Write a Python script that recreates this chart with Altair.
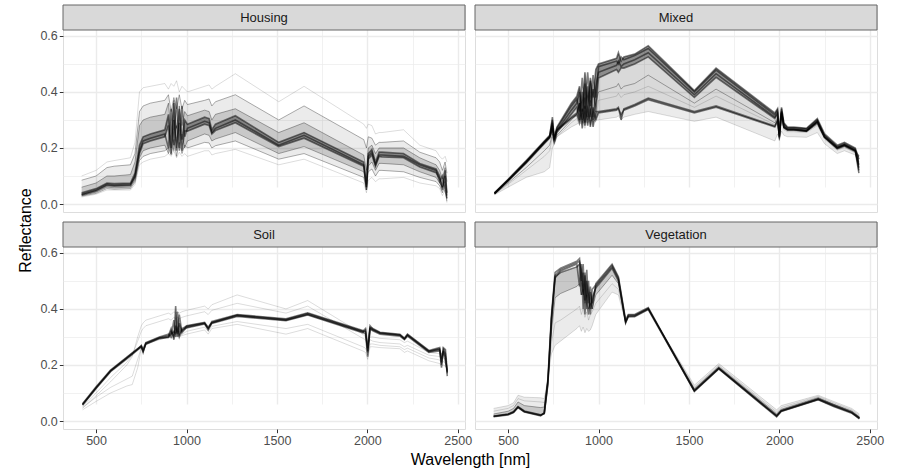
import altair as alt
import pandas as pd

# ---------------- axis breaks / limits ----------------
XVALS = [500, 750, 1000, 1250, 1500, 1750, 2000, 2250, 2500]
YVALS = [0.0, 0.1, 0.2, 0.3, 0.4, 0.5, 0.6]
X_DOMAIN = [317, 2540]
Y_DOMAIN = [-0.0285, 0.621]

# ---------------- Housing ----------------
housing_wl = [420, 500, 560, 600, 690, 715, 740, 760, 800, 880, 900, 915, 930, 945, 960,
              975, 990, 1005, 1100, 1125, 1140, 1160, 1270, 1510, 1650, 1980, 1995, 2005,
              2025, 2045, 2065, 2080, 2200, 2290, 2380, 2400, 2415, 2430, 2440]
housing_core = {
    "C1": [.040, .055, .075, .073, .075, .110, .210, .240, .250, .265, .320, .200, .360, .190, .340,
           .230, .300, .285, .310, .305, .265, .285, .315, .220, .255, .150, .060, .180, .195, .150,
           .185, .185, .180, .145, .125, .100, .060, .120, .040],
    "C2": [.035, .050, .070, .068, .070, .100, .190, .225, .235, .250, .200, .340, .210, .380, .200,
           .350, .240, .270, .295, .290, .255, .270, .300, .210, .245, .140, .050, .170, .185, .140,
           .175, .175, .170, .140, .120, .080, .100, .050, .020],
    "C3": [.032, .046, .066, .064, .066, .095, .180, .215, .225, .240, .280, .180, .300, .200, .290,
           .190, .260, .260, .285, .280, .250, .262, .290, .205, .235, .135, .070, .160, .175, .135,
           .170, .168, .165, .132, .112, .090, .050, .100, .030],
}
housing_mid = {
    "H2": [.085, .100, .130, .135, .140, .180, .330, .350, .360, .370, .390, .330, .380, .340, .390,
           .340, .370, .355, .370, .375, .350, .365, .390, .300, .350, .230, .200, .240, .235, .210,
           .220, .220, .225, .185, .165, .150, .120, .150, .110],
    "H3": [.060, .075, .100, .100, .105, .150, .280, .300, .310, .320, .360, .260, .370, .270, .350,
           .280, .330, .315, .335, .330, .300, .320, .340, .255, .290, .175, .120, .200, .210, .180,
           .200, .200, .200, .165, .140, .120, .090, .130, .080],
    "L3": [.030, .042, .060, .058, .060, .085, .165, .190, .200, .210, .180, .260, .190, .280, .190,
           .250, .200, .225, .250, .245, .225, .232, .255, .180, .205, .115, .060, .135, .150, .120,
           .145, .145, .140, .115, .095, .075, .060, .080, .020],
    "L2": [.028, .038, .055, .053, .055, .078, .155, .170, .180, .190, .200, .175, .230, .170, .220,
           .180, .210, .200, .220, .218, .200, .208, .225, .160, .180, .095, .050, .115, .125, .100,
           .120, .120, .115, .095, .080, .065, .040, .070, .010],
}
housing_light = {
    "H1": [.100, .120, .150, .155, .165, .220, .400, .415, .420, .430, .410, .430, .420, .440, .400,
           .420, .410, .400, .420, .425, .410, .420, .465, .365, .420, .285, .270, .285, .280, .250,
           .255, .255, .265, .210, .190, .170, .160, .170, .150],
    "L1": [.025, .035, .050, .050, .050, .070, .140, .150, .160, .170, .180, .170, .190, .165, .185,
           .170, .180, .170, .190, .190, .175, .180, .195, .140, .160, .075, .040, .085, .095, .080,
           .090, .090, .095, .075, .065, .055, .030, .050, .005],
}
housing_bands = [("L2", "H2", "outer"), ("L3", "H3", "inner"), ("C3", "C1", "core")]

# ---------------- Mixed ----------------
mixed_wl = [425, 500, 600, 700, 730, 745, 755, 770, 850, 880, 895, 910, 925, 940, 955, 970, 985,
            1000, 1100, 1110, 1125, 1140, 1200, 1275, 1530, 1650, 1975, 1990, 2000, 2012, 2025,
            2045, 2080, 2150, 2210, 2250, 2320, 2360, 2420, 2440]
mixed_core = {
    "U1": [.040, .088, .155, .225, .245, .300, .240, .275, .360, .385, .420, .330, .470, .350, .450,
           .380, .480, .500, .520, .540, .510, .525, .535, .565, .405, .485, .325, .340, .260, .345,
           .290, .275, .275, .270, .305, .250, .210, .220, .200, .160],
    "U2": [.038, .085, .150, .220, .240, .290, .230, .270, .350, .375, .330, .450, .340, .470, .350,
           .460, .380, .490, .510, .500, .525, .515, .530, .555, .400, .478, .318, .335, .250, .340,
           .285, .272, .272, .268, .300, .245, .205, .215, .195, .120],
    "U3": [.037, .083, .148, .218, .238, .280, .225, .262, .335, .360, .400, .300, .430, .310, .440,
           .300, .420, .470, .495, .510, .490, .500, .515, .540, .390, .465, .310, .325, .240, .330,
           .278, .268, .268, .262, .295, .240, .200, .210, .190, .140],
    "U4": [.036, .082, .146, .215, .235, .270, .220, .255, .320, .345, .300, .400, .290, .420, .310,
           .410, .330, .450, .480, .470, .485, .485, .500, .525, .380, .452, .305, .320, .235, .325,
           .275, .265, .265, .260, .290, .238, .198, .208, .188, .110],
    "W1": [.040, .086, .152, .222, .242, .310, .230, .265, .310, .325, .360, .270, .350, .280, .340,
           .275, .330, .330, .340, .345, .300, .340, .355, .378, .330, .350, .278, .300, .240, .330,
           .275, .266, .266, .262, .295, .240, .202, .212, .192, .130],
    "W2": [.038, .084, .150, .220, .240, .260, .240, .262, .305, .318, .290, .340, .280, .350, .275,
           .345, .300, .325, .335, .340, .320, .335, .350, .372, .325, .345, .275, .295, .245, .325,
           .272, .264, .264, .260, .292, .238, .200, .210, .190, .170],
}
mixed_mid = {
    "M1": [.035, .075, .130, .190, .210, .250, .215, .245, .300, .320, .360, .290, .380, .300, .370,
           .310, .360, .400, .420, .430, .410, .420, .430, .460, .360, .410, .290, .310, .230, .320,
           .270, .262, .262, .258, .285, .235, .195, .205, .185, .150],
}
mixed_light = {
    "M2": [.035, .070, .120, .170, .190, .240, .210, .240, .290, .305, .280, .340, .270, .350, .280,
           .330, .300, .370, .385, .395, .380, .390, .400, .420, .345, .385, .283, .300, .225, .315,
           .265, .258, .258, .255, .280, .232, .192, .202, .182, .130],
    "LL": [.033, .060, .095, .115, .130, .200, .215, .240, .275, .285, .290, .285, .295, .290, .300,
           .295, .300, .300, .310, .315, .300, .310, .320, .330, .295, .310, .225, .250, .230, .260,
           .245, .240, .240, .238, .255, .215, .180, .190, .175, .140],
}
mixed_bands = [("LL", "W2", "outer"), ("W2", "U1", "inner"), ("U4", "U1", "core"), ("W2", "W1", "core")]

# ---------------- Soil ----------------
soil_wl = [425, 500, 580, 670, 700, 730, 750, 760, 775, 850, 900, 915, 930, 940, 950, 960, 975,
           1000, 1100, 1120, 1140, 1280, 1550, 1670, 1975, 1990, 2002, 2015, 2030, 2070, 2180,
           2205, 2222, 2340, 2400, 2410, 2420, 2432, 2442]
soil_core = {
    "S1": [.062, .122, .182, .228, .243, .258, .268, .245, .278, .298, .305, .330, .290, .410, .300,
           .350, .320, .340, .352, .330, .355, .380, .365, .386, .323, .318, .245, .335, .330, .317,
           .310, .296, .310, .252, .262, .200, .262, .255, .170],
    "S2": [.058, .118, .178, .224, .240, .256, .270, .255, .280, .300, .310, .300, .360, .300, .390,
           .310, .330, .338, .350, .335, .352, .378, .362, .383, .320, .330, .260, .340, .328, .315,
           .308, .294, .308, .250, .255, .230, .250, .210, .180],
    "S3": [.060, .120, .180, .226, .242, .257, .266, .250, .276, .296, .300, .320, .300, .340, .310,
           .380, .315, .335, .348, .325, .350, .376, .360, .380, .318, .310, .230, .330, .325, .313,
           .306, .292, .306, .248, .258, .190, .255, .240, .160],
    "S4": [.056, .116, .176, .222, .238, .254, .264, .248, .274, .294, .298, .310, .320, .310, .330,
           .300, .325, .332, .346, .330, .348, .373, .358, .378, .315, .325, .250, .328, .322, .310,
           .303, .290, .303, .245, .250, .210, .245, .230, .175],
}
soil_mid = {}
soil_light = {
    "SU1": [.045, .090, .140, .200, .230, .300, .340, .350, .360, .375, .385, .380, .390, .385, .390,
            .385, .390, .395, .410, .400, .415, .450, .400, .430, .310, .300, .280, .300, .300, .295,
            .290, .280, .285, .245, .240, .230, .235, .228, .220],
    "SU2": [.050, .100, .155, .210, .235, .285, .320, .330, .340, .355, .365, .360, .370, .365, .370,
            .365, .370, .375, .390, .380, .395, .420, .385, .410, .295, .290, .275, .290, .285, .280,
            .275, .265, .270, .235, .230, .220, .225, .220, .210],
    "SL1": [.040, .070, .100, .125, .130, .190, .260, .265, .275, .290, .300, .295, .305, .300, .305,
            .300, .305, .310, .325, .310, .330, .345, .310, .330, .250, .245, .220, .265, .265, .262,
            .258, .245, .250, .215, .205, .195, .200, .195, .185],
    "SL2": [.048, .085, .120, .150, .160, .220, .262, .258, .272, .293, .302, .298, .308, .303, .308,
            .303, .308, .320, .335, .320, .338, .355, .330, .345, .265, .260, .235, .275, .275, .270,
            .265, .255, .260, .225, .218, .205, .212, .205, .195],
}
soil_bands = [("S4", "S1", "core")]

# ---------------- Vegetation ----------------
veg_wl = [420, 500, 530, 555, 590, 680, 700, 720, 740, 760, 790, 880, 895, 905, 915, 925, 935,
          945, 955, 965, 985, 1075, 1110, 1150, 1165, 1200, 1275, 1530, 1665, 1985, 2010, 2215,
          2300, 2400, 2443]
veg_core = {
    "V1": [.015, .022, .030, .048, .032, .018, .030, .150, .380, .530, .545, .570, .580, .500, .560,
           .430, .540, .420, .480, .400, .490, .560, .515, .360, .380, .380, .405, .108, .188, .018,
           .036, .078, .055, .030, .010],
    "V2": [.016, .023, .031, .049, .033, .020, .028, .140, .370, .520, .540, .565, .570, .540, .450,
           .530, .400, .500, .380, .470, .485, .555, .510, .355, .378, .378, .402, .105, .186, .015,
           .034, .076, .052, .028, .008],
    "V3": [.018, .025, .034, .052, .036, .022, .026, .130, .360, .510, .535, .560, .480, .560, .400,
           .520, .420, .380, .460, .420, .480, .550, .505, .350, .375, .375, .400, .110, .190, .020,
           .038, .080, .058, .032, .012],
    "V4": [.017, .024, .032, .050, .034, .021, .027, .135, .365, .515, .530, .550, .560, .450, .530,
           .380, .500, .440, .400, .440, .475, .545, .500, .352, .372, .372, .398, .107, .187, .017,
           .035, .077, .054, .030, .009],
}
veg_mid = {
    "VL3": [.025, .035, .045, .068, .055, .048, .050, .150, .320, .440, .455, .480, .490, .450, .470,
            .420, .450, .400, .420, .400, .450, .520, .490, .355, .375, .376, .402, .115, .194, .026,
            .042, .084, .060, .036, .015],
}
veg_light = {
    "VL1": [.045, .055, .065, .092, .085, .083, .080, .150, .240, .270, .285, .330, .340, .320, .335,
            .315, .330, .320, .325, .340, .380, .460, .450, .350, .370, .372, .398, .128, .205, .040,
            .055, .092, .070, .045, .025],
    "VL2": [.035, .045, .055, .080, .072, .068, .066, .150, .280, .350, .360, .400, .410, .380, .400,
            .370, .390, .360, .380, .390, .420, .490, .470, .352, .372, .374, .400, .120, .198, .032,
            .048, .088, .065, .040, .020],
}
veg_bands = [("VL1", "V4", "outer"), ("VL3", "V4", "inner")]

# ---------------- layout / style ----------------
PW, PH, SH, GAP = 402, 182, 25, 10
FONT = "Liberation Sans"
MAJX = "datum.value % 500 === 0"
MAJY = "round(datum.value * 10) % 2 === 0"
LINE_STYLE = {"light": (0.2, 0.7), "mid": (0.32, 1.0), "core": (0.5, 1.6)}
BAND_OPACITY = {"outer": 0.08, "inner": 0.15, "core": 0.35}


def frame(wl, lines):
    rows = []
    for name, vals in lines.items():
        assert len(vals) == len(wl), name
        for w, v in zip(wl, vals):
            rows.append({"line": name, "wl": w, "r": v})
    return pd.DataFrame(rows)


def band_frame(wl, lines, lo, hi):
    return pd.DataFrame({"wl": wl, "lo": lines[lo], "hi": lines[hi]})


def x_axis(bottom, with_title):
    kw = dict(values=XVALS, grid=True, gridColor="#ebebeb",
              gridWidth={"condition": {"test": MAJX, "value": 1.4}, "value": 0.7},
              domain=False)
    if bottom:
        kw.update(labels=True, ticks=True, format="d",
                  labelExpr=MAJX + " ? datum.label : ''",
                  tickOpacity={"condition": {"test": MAJX, "value": 1}, "value": 0},
                  tickColor="#333333", tickSize=3.7, tickWidth=1, labelPadding=2,
                  labelColor="#4d4d4d", labelFontSize=12.5, labelFont=FONT,
                  labelFlush=False, labelOverlap=False)
    else:
        kw.update(labels=False, ticks=False)
    if with_title:
        kw.update(title="Wavelength [nm]", titleX=407, titleY=35,
                  titleBaseline="alphabetic", titleFontSize=16, titleFont=FONT,
                  titleFontWeight="normal", titleColor="black")
    else:
        kw.update(title=None)
    return alt.Axis(**kw)


def y_axis(left, with_title):
    kw = dict(values=YVALS, grid=True, gridColor="#ebebeb",
              gridWidth={"condition": {"test": MAJY, "value": 1.4}, "value": 0.7},
              domain=False)
    if left:
        kw.update(labels=True, ticks=True, format=".1f",
                  labelExpr=MAJY + " ? datum.label : ''",
                  tickOpacity={"condition": {"test": MAJY, "value": 1}, "value": 0},
                  tickColor="#333333", tickSize=3.7, tickWidth=1, labelPadding=2,
                  labelColor="#4d4d4d", labelFontSize=12.5, labelFont=FONT,
                  labelFlush=False, labelOverlap=False)
    else:
        kw.update(labels=False, ticks=False)
    if with_title:
        kw.update(title="Reflectance", titleX=-33, titleY=225, titleAngle=270,
                  titleBaseline="alphabetic", titleFontSize=16, titleFont=FONT,
                  titleFontWeight="normal", titleColor="black")
    else:
        kw.update(title=None)
    return alt.Axis(**kw)


def panel(name, wl, core, mid, light, bands, bottom, left, ytitle=False, xtitle=False):
    xs = alt.Scale(domain=X_DOMAIN, nice=False, zero=False)
    ys = alt.Scale(domain=Y_DOMAIN, range=[SH + PH, SH], nice=False, zero=False)
    xenc = alt.X("wl:Q", scale=xs, axis=x_axis(bottom, xtitle))
    yaxis = y_axis(left, ytitle)
    every = {**core, **mid, **light}
    layers = []
    for lo, hi, kind in bands:
        layers.append(
            alt.Chart(band_frame(wl, every, lo, hi)).mark_area(
                color="black", opacity=BAND_OPACITY[kind], strokeWidth=0
            ).encode(x=xenc, y=alt.Y("lo:Q", scale=ys, axis=yaxis), y2="hi:Q")
        )
    for lines, kind in ((light, "light"), (mid, "mid"), (core, "core")):
        if not lines:
            continue
        op, sw = LINE_STYLE[kind]
        layers.append(
            alt.Chart(frame(wl, lines)).mark_line(color="black", opacity=op, strokeWidth=sw).encode(
                x=xenc,
                y=alt.Y("r:Q", scale=ys, axis=yaxis),
                detail="line:N",
            )
        )
    label = pd.DataFrame({"panel": [name]})
    strip_bg = alt.Chart(label).mark_rect(fill="#d9d9d9", stroke="#666666", strokeWidth=1).encode(
        x=alt.value(0), x2=alt.value(PW), y=alt.value(0), y2=alt.value(SH)
    )
    strip_txt = alt.Chart(label).mark_text(font=FONT, fontSize=13, color="#1a1a1a").encode(
        text="panel:N", x=alt.value(PW / 2), y=alt.value(SH / 2 + 0.5)
    )
    return alt.layer(*layers, strip_bg, strip_txt).properties(width=PW, height=SH + PH)


tl = panel("Housing", housing_wl, housing_core, housing_mid, housing_light, housing_bands,
           False, True, ytitle=True)
tr = panel("Mixed", mixed_wl, mixed_core, mixed_mid, mixed_light, mixed_bands, False, False)
bl = panel("Soil", soil_wl, soil_core, soil_mid, soil_light, soil_bands, True, True, xtitle=True)
br = panel("Vegetation", veg_wl, veg_core, veg_mid, veg_light, veg_bands, True, False)

chart = alt.concat(tl, tr, bl, br, columns=2, spacing=GAP, bounds="flush").properties(
    padding={"left": 16, "top": 4, "right": 5, "bottom": 2},
    background="white",
).configure_view(stroke="#666666", strokeWidth=1).configure(font=FONT)

chart.save("out.html", embed_options={"renderer": "svg", "actions": False})
